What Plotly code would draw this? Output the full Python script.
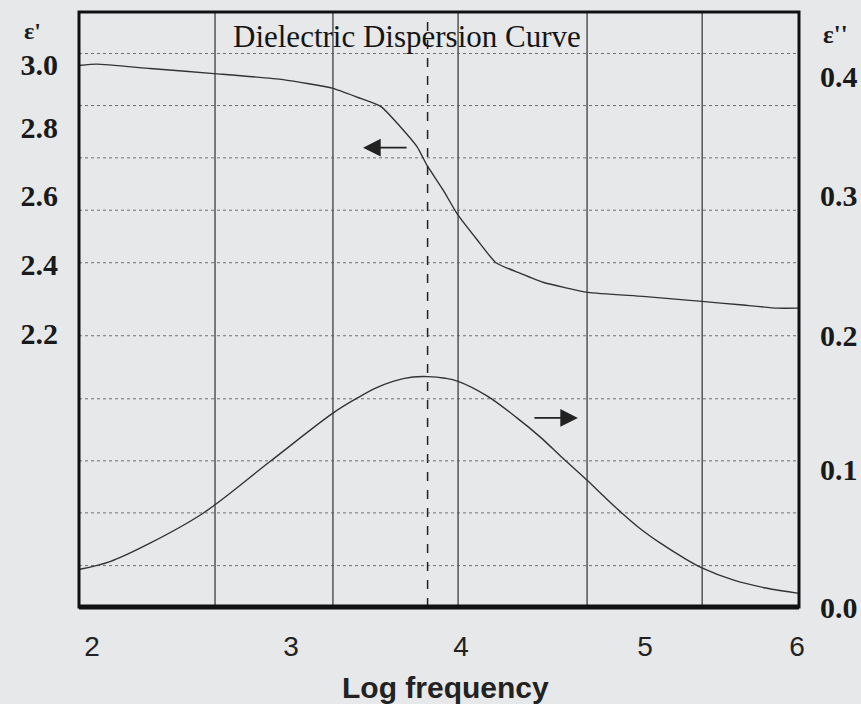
import plotly.graph_objects as go

# ---- data ----
log_freq_1 = [1.926, 2.028, 2.329, 2.692, 3.084, 3.367, 3.509, 3.640, 3.748, 3.844,
              3.901, 3.991, 4.071, 4.184, 4.292, 4.428, 4.559, 4.814, 5.126, 5.460,
              5.677, 5.887, 6.011]
eps_real = [2.997, 3.001, 2.988, 2.973, 2.955, 2.929, 2.902, 2.875, 2.816, 2.756,
            2.700, 2.628, 2.557, 2.480, 2.411, 2.380, 2.353, 2.323, 2.311, 2.296,
            2.286, 2.276, 2.276]

log_freq_2 = [1.932, 2.102, 2.329, 2.630, 3.010, 3.367, 3.504, 3.606, 3.708, 3.821,
              3.906, 4.003, 4.077, 4.241, 4.411, 4.542, 4.672, 4.809, 4.911, 4.996,
              5.109, 5.223, 5.353, 5.467, 5.637, 5.824, 6.011]
eps_imag = [0.0285, 0.0342, 0.0481, 0.0707, 0.1097, 0.1462, 0.1575, 0.1649, 0.1702, 0.1734,
            0.1737, 0.1725, 0.1702, 0.1592, 0.1426, 0.1283, 0.1121, 0.0955, 0.0826, 0.0721,
            0.0592, 0.0483, 0.0374, 0.0291, 0.0204, 0.0143, 0.0103]

x_tick_labels = ["2", "3", "4", "5", "6"]
x_tick_pos = [2.0, 3.129, 4.094, 5.138, 6.0]
left_tick_labels = ["3.0", "2.8", "2.6", "2.4", "2.2"]
left_tick_pos = [3.0, 2.8126, 2.6104, 2.4052, 2.2]
right_tick_labels = ["0.4", "0.3", "0.2", "0.1", "0.0"]
right_tick_pos = [0.4, 0.3102, 0.2045, 0.1034, 0.0]

vgrid = [2.698, 3.367, 4.077, 4.809, 5.462]
peak_line = 3.904
hgrid = [3.0327, 2.878, 2.7225, 2.567, 2.411, 2.194, 2.0067, 1.8223, 1.6677, 1.511]

X_RANGE = [1.9262, 6.0113]
Y1_RANGE = [1.388, 3.156]
Y2_RANGE = [0.0, 0.4487]

BG = "#e7e8ea"
LINE = "#333333"

fig = go.Figure()
fig.add_trace(go.Scatter(x=log_freq_1, y=eps_real, mode="lines", name="ε'",
                         line=dict(color=LINE, width=1.4, shape="spline", smoothing=0.5),
                         yaxis="y", showlegend=False))
fig.add_trace(go.Scatter(x=log_freq_2, y=eps_imag, mode="lines", name="ε''",
                         line=dict(color=LINE, width=1.4, shape="spline", smoothing=1.0),
                         yaxis="y2", showlegend=False))

shapes = []
for g in hgrid:
    shapes.append(dict(type="line", xref="paper", x0=0, x1=1, yref="y", y0=g, y1=g,
                       line=dict(color="#6f6f6f", width=1, dash="dot"), layer="below"))
for g in vgrid:
    shapes.append(dict(type="line", yref="paper", y0=0, y1=1, xref="x", x0=g, x1=g,
                       line=dict(color="#555555", width=1.5), layer="below"))
shapes.append(dict(type="line", yref="paper", y0=0, y1=1, xref="x", x0=peak_line, x1=peak_line,
                   line=dict(color="#222222", width=1.5, dash="dash")))
shapes.append(dict(type="rect", xref="paper", yref="paper", x0=0, x1=1, y0=0, y1=1,
                   line=dict(color="#111111", width=3)))
shapes.append(dict(type="line", xref="paper", yref="paper", x0=0, x1=1, y0=0, y1=0,
                   line=dict(color="#111111", width=5)))

serif = "Liberation Serif, Times New Roman, serif"
sans = "Liberation Sans Narrow, Arial Narrow, Liberation Sans, Arial"
annotations = [
    dict(text="Dielectric Dispersion Curve", xref="paper", yref="paper", x=0.4555, y=0.959,
         showarrow=False, font=dict(family=serif, size=31, color="#151515"),
         xanchor="center", yanchor="middle"),
    dict(text="ε'", xref="paper", yref="paper", x=-0.064, y=0.968, showarrow=False,
         font=dict(family=serif, size=24, color="#1a1a1a", weight="bold"),
         xanchor="center", yanchor="middle"),
    dict(text="ε''", xref="paper", yref="paper", x=1.05, y=0.962, showarrow=False,
         font=dict(family=serif, size=25, color="#1a1a1a", weight="bold"),
         xanchor="center", yanchor="middle"),
    dict(text="Log frequency", xref="paper", yref="paper", x=0.5097, y=-0.136,
         showarrow=False, font=dict(family=sans, size=30, color="#222222", weight="bold"),
         xanchor="center", yanchor="middle"),
    dict(x=3.538, y=2.753, xref="x", yref="y", ax=45, ay=0, text="", showarrow=True,
         arrowhead=2, arrowsize=2.2, arrowwidth=1.6, arrowcolor="#222222"),
    dict(x=4.757, y=0.1426, xref="x", yref="y2", ax=-45, ay=0, text="", showarrow=True,
         arrowhead=2, arrowsize=2.2, arrowwidth=1.6, arrowcolor="#222222"),
]

fig.update_layout(
    width=861, height=704,
    margin=dict(l=79, r=62, t=12, b=97),
    paper_bgcolor=BG, plot_bgcolor=BG,
    shapes=shapes, annotations=annotations,
    xaxis=dict(range=X_RANGE, tickvals=x_tick_pos, ticktext=x_tick_labels, automargin=False,
               showgrid=False, zeroline=False, ticks="", ticklabelstandoff=20,
               tickfont=dict(family=sans, size=28, color="#222222")),
    yaxis=dict(range=Y1_RANGE, tickvals=left_tick_pos, ticktext=left_tick_labels, automargin=False,
               showgrid=False, zeroline=False, ticks="", ticklabelstandoff=20,
               tickfont=dict(family=serif, size=30, color="#1a1a1a", weight="bold")),
    yaxis2=dict(range=Y2_RANGE, tickvals=right_tick_pos, ticktext=right_tick_labels, automargin=False,
                overlaying="y", side="right", showgrid=False, zeroline=False, ticks="",
                ticklabelstandoff=20,
                tickfont=dict(family=serif, size=30, color="#1a1a1a", weight="bold")),
)

fig.write_html("out.html")
